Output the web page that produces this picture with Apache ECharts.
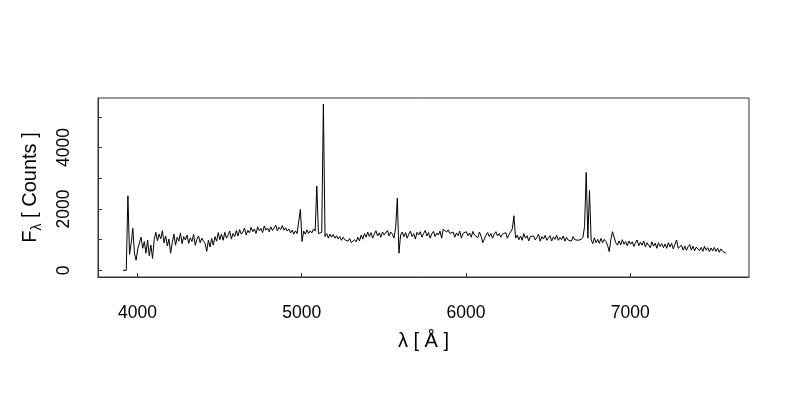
<!DOCTYPE html>
<html>
<head>
<meta charset="utf-8">
<script src="https://cdn.jsdelivr.net/npm/echarts@6/dist/echarts.min.js"></script>
<style>
html,body{margin:0;padding:0;background:#fff;}
#chart{width:800px;height:400px;}
</style>
</head>
<body>
<div id="chart"></div>
<script>
// Wavelength grid of the spectrum (Angstrom): first sample and sampling step
const lambdaStart = 3912;
const lambdaStep = 10;

// Flux values [Counts], one per sample (100 Å per row)
const flux = [
  0, 0, 0, 2430, 520, 880, 1370, 560, 330, 700,
  650, 1080, 720, 940, 560, 990, 480, 820, 390, 1000,
  1240, 960, 1180, 1030, 1290, 900, 1120, 800, 1020, 560,
  900, 1180, 820, 1080, 950, 1220, 870, 1100, 990, 1150,
  880, 1060, 940, 1170, 820, 1010, 1120, 900, 1050, 950,
  880, 620, 980, 760, 1040, 820, 1100, 950, 1230, 1000,
  1180, 980, 1240, 1050, 1150, 1280, 1020, 1200, 1100, 1300,
  1120, 1330, 1180, 1250, 1380, 1150, 1300, 1220, 1400, 1260,
  1350, 1200, 1420, 1290, 1370, 1230, 1450, 1310, 1380, 1260,
  1420, 1300, 1380, 1470, 1290, 1400, 1330, 1460, 1310, 1390,
  1280, 1350, 1220, 1310, 1180, 1290, 1200, 1230, 1990, 940,
  1280, 1180, 1320, 1200, 1290, 1220, 1350, 1280, 2750, 1200,
  1150, 1240, 5420, 1100, 1200, 1050, 1180, 1080, 1170, 1050,
  1130, 1020, 1100, 980, 1080, 1000, 1060, 950, 1040, 900,
  880, 1000, 930, 1080, 960, 1150, 1020, 1200, 1080, 1250,
  1100, 1230, 1050, 1180, 1290, 1120, 1220, 1080, 1250, 1150,
  1200, 1300, 1120, 1250, 1180, 1050, 1400, 2350, 560, 1150,
  1250, 1100, 1230, 1050, 1180, 1280, 1100, 1200, 1020, 1240,
  1150, 1260, 1080, 1200, 1300, 1120, 1230, 1050, 1190, 1270,
  1100, 1220, 1150, 1280, 1050, 1340, 1380, 1250, 1320, 1200,
  1150, 1250, 1080, 1220, 1130, 1280, 1050, 1200, 1150, 1260,
  1130, 1220, 1080, 1270, 1150, 1200, 1060, 1250, 1120, 900,
  880, 1150, 1230, 1100, 1200, 1050, 1180, 1260, 1120, 1200,
  1080, 1180, 1120, 1230, 1050, 1160, 1100, 1350, 1780, 1050,
  1150, 1000, 1120, 980, 1200, 1050, 1130, 960, 1100, 1040,
  1120, 990, 1080, 1180, 950, 1100, 1020, 1140, 980, 1060,
  1130, 960, 1090, 1010, 1150, 980, 1070, 1000, 1120, 950,
  1080, 990, 1040, 950, 1100, 1000, 1060, 980, 1030, 1010,
  1080, 1430, 3190, 1050, 2600, 1000, 870, 1060, 900, 1010,
  880, 1040, 900, 1010, 940, 820, 610, 1000, 1260, 1240,
  900, 820, 960, 830, 1000, 850, 940, 800, 960, 850,
  930, 780, 900, 990, 800, 920, 820, 960, 770, 900,
  880, 740, 930, 790, 890, 720, 900, 780, 870, 740,
  860, 720, 900, 760, 880, 700, 840, 990, 720, 690,
  820, 660, 790, 650, 770, 840, 660, 790, 640, 760,
  790, 640, 750, 620, 780, 660, 740, 610, 730, 630,
  750, 620, 720, 590, 700, 620, 600, 560
];

// Axis tick labels
const xTickLabels = [4000, 5000, 6000, 7000];
const yTickLabels = [0, 2000, 4000];

const xTitle = 'λ [ Å ]';
const yTitle = '{n|F}{s|λ}{n| [ Counts ]}';

const seriesData = flux.map((v, i) => [lambdaStart + i * lambdaStep, v]);

const chart = echarts.init(document.getElementById('chart'), null, {renderer: 'canvas'});
const font = "'Liberation Sans', Arial, sans-serif";
chart.setOption({
  backgroundColor: '#fff',
  animation: false,
  grid: {left: 98, right: 51, top: 98, bottom: 123, show: true, borderColor: '#333', borderWidth: 1, backgroundColor: 'transparent'},
  xAxis: {
    type: 'value', min: 3760, max: 7723, splitNumber: 4,
    axisLine: {show: true, onZero: false, lineStyle: {color: '#333', width: 1}},
    axisTick: {show: true, inside: true, length: 4, lineStyle: {color: '#333'}},
    splitLine: {show: false},
    axisLabel: {
      showMinLabel: false, showMaxLabel: false, margin: 27,
      color: '#000', fontSize: 17.5, fontFamily: font,
      formatter: v => xTickLabels.includes(v) ? String(v) : ''
    },
    name: xTitle, nameLocation: 'middle', nameGap: 54,
    nameTextStyle: {color: '#000', fontSize: 20, fontFamily: font}
  },
  yAxis: {
    type: 'value', min: -216, max: 5616, splitNumber: 6,
    axisLine: {show: true, onZero: false, lineStyle: {color: '#333', width: 1}},
    axisTick: {show: true, inside: true, length: 4, lineStyle: {color: '#333'}},
    splitLine: {show: false},
    axisLabel: {
      showMinLabel: false, showMaxLabel: false, margin: 25, rotate: 90,
      color: '#000', fontSize: 17.5, fontFamily: font,
      formatter: v => yTickLabels.includes(v) ? String(v) : ''
    },
    name: yTitle, nameLocation: 'middle', nameGap: 58, nameRotate: 90,
    nameTextStyle: {
      color: '#000', fontSize: 20, fontFamily: font,
      rich: {
        n: {fontSize: 20, fontFamily: font, color: '#000', verticalAlign: 'bottom', lineHeight: 24},
        s: {fontSize: 14, fontFamily: font, color: '#000', verticalAlign: 'bottom', lineHeight: 17, padding: [0, 0, -4, 0]}
      }
    }
  },
  series: [{
    type: 'line', data: seriesData, showSymbol: false, sampling: null,
    lineStyle: {color: '#000', width: 1}, silent: true
  }]
});
</script>
</body>
</html>
